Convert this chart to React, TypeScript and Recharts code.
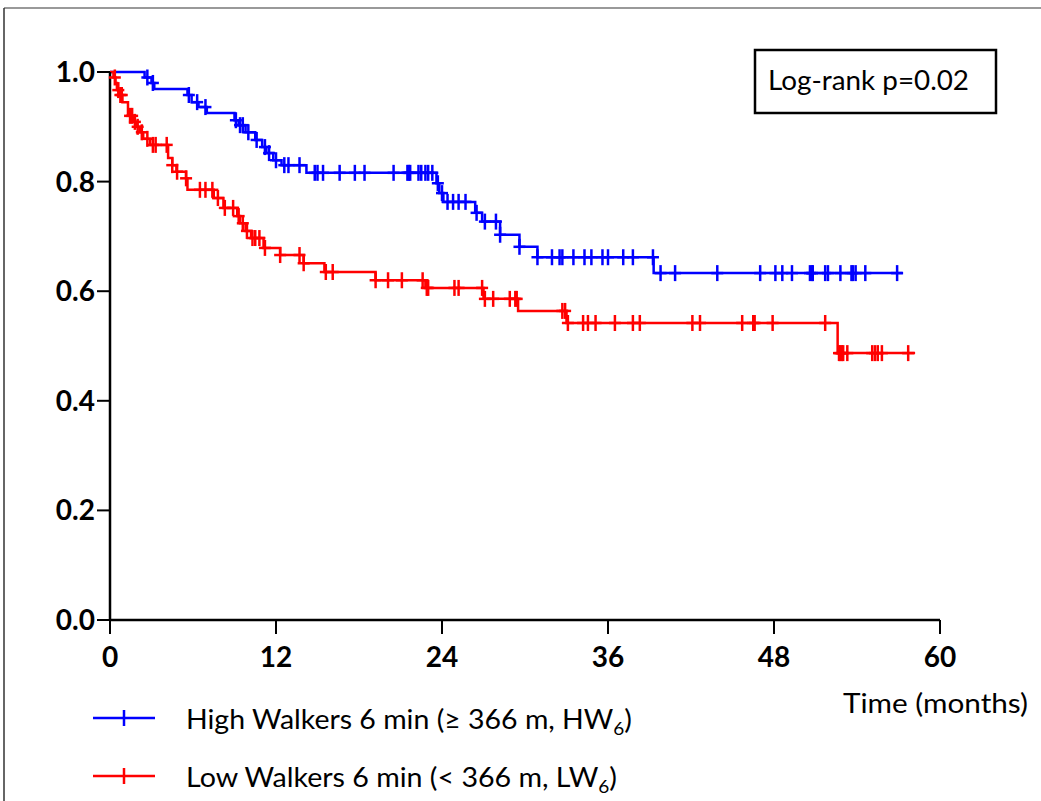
import React from 'react';
import { ComposedChart, Line, Scatter, XAxis, YAxis } from 'recharts';

const xTicks = [0, 12, 24, 36, 48, 60];
const yTicks = [0, 0.2, 0.4, 0.6, 0.8, 1.0];

// High walkers (HW6): step times in months and survival after each step
const hwTimes = [0, 2.5, 3.0, 3.2, 5.6, 5.9, 6.4, 7.0, 9.0, 9.3, 9.8, 10.5, 11.0, 11.3, 11.8, 12.4, 14.2, 23.6, 23.8, 24.1, 26.4, 26.9, 28.2, 29.6, 30.9, 39.3, 57.3];
const hwSurv = [1.0, 0.99, 0.98, 0.969, 0.958, 0.945, 0.936, 0.925, 0.912, 0.903, 0.89, 0.876, 0.863, 0.852, 0.839, 0.83, 0.816, 0.797, 0.779, 0.763, 0.743, 0.727, 0.703, 0.681, 0.662, 0.633, 0.633];
const hwCensored = [2.7, 3.1, 5.7, 6.3, 6.9, 9.1, 9.4, 9.6, 10.0, 10.6, 11.2, 11.5, 12.0, 12.6, 12.9, 13.7, 14.8, 15.0, 15.4, 16.6, 17.7, 18.4, 20.5, 21.5, 21.6, 21.7, 22.3, 22.5, 22.8, 23.0, 23.3, 23.7, 24.0, 24.4, 24.8, 25.2, 25.7, 26.5, 27.1, 27.9, 28.2, 29.6, 30.9, 31.95, 32.5, 32.7, 33.5, 34.3, 34.8, 35.6, 36.0, 37.1, 37.8, 39.25, 39.8, 40.85, 43.9, 47.0, 48.1, 48.6, 49.3, 50.6, 50.75, 50.8, 51.7, 51.9, 52.8, 53.6, 53.7, 53.9, 54.6, 56.9];

// Low walkers (LW6)
const lwTimes = [0, 0.25, 0.4, 0.5, 0.7, 0.9, 1.3, 1.65, 1.95, 2.15, 2.4, 2.9, 4.2, 4.5, 4.8, 5.5, 5.6, 7.5, 8.2, 9.2, 9.4, 9.8, 10.2, 11.1, 12.3, 14.0, 15.5, 19.2, 22.8, 27.0, 29.5, 33.0, 52.6, 58.2];
const lwSurv = [1.0, 0.99, 0.98, 0.967, 0.958, 0.945, 0.92, 0.909, 0.9, 0.89, 0.878, 0.867, 0.843, 0.83, 0.818, 0.806, 0.785, 0.77, 0.752, 0.737, 0.724, 0.71, 0.697, 0.679, 0.666, 0.651, 0.635, 0.62, 0.606, 0.586, 0.564, 0.542, 0.487, 0.487];
const lwCensored = [0.35, 0.6, 0.75, 0.85, 1.45, 1.6, 1.8, 2.0, 2.3, 2.7, 3.1, 3.3, 4.1, 4.5, 4.85, 5.5, 6.5, 6.9, 7.4, 7.8, 8.3, 8.9, 9.3, 9.6, 9.9, 10.3, 10.5, 10.8, 11.2, 12.3, 13.7, 14.0, 15.6, 16.1, 19.2, 20.1, 21.1, 22.6, 22.9, 23.0, 24.9, 25.2, 26.9, 27.1, 27.7, 28.9, 29.3, 29.4, 32.7, 32.9, 33.1, 34.2, 34.55, 35.1, 36.5, 37.8, 38.3, 42.1, 42.65, 45.7, 46.5, 46.6, 47.9, 51.7, 52.7, 52.8, 52.9, 53.0, 53.3, 55.1, 55.3, 55.5, 55.8, 57.7];

const BLUE = '#0000ff';
const RED = '#ff0000';
const FONT = 'Lato, "Liberation Sans", sans-serif';

const steps = (times: number[], surv: number[]) => times.map((t, i) => ({ t, s: surv[i] }));

// survival value of the step curve at time t (for placing censor marks)
const survAt = (times: number[], surv: number[], t: number) => {
  let v = surv[0];
  for (let i = 0; i < times.length; i++) {
    if (times[i] <= t) v = surv[i];
  }
  return v;
};

const censorPoints = (times: number[], surv: number[], cens: number[]) =>
  cens.map((t) => ({ t, s: survAt(times, surv, t) }));

const crossShape = (color: string) => (props: any) => {
  const { cx, cy } = props;
  if (cx == null || cy == null) return <g />;
  return (
    <g stroke={color} strokeWidth={2.5}>
      <line x1={cx - 6} x2={cx + 6} y1={cy} y2={cy} />
      <line x1={cx} x2={cx} y1={cy - 8} y2={cy + 8} />
    </g>
  );
};

export default function App() {
  const hwSteps = steps(hwTimes, hwSurv);
  const lwSteps = steps(lwTimes, lwSurv);
  const hwCens = censorPoints(hwTimes, hwSurv, hwCensored);
  const lwCens = censorPoints(lwTimes, lwSurv, lwCensored);

  return (
    <div style={{ position: 'absolute', left: 0, top: 0, width: 1041, height: 801, background: '#fff' }}>
      <ComposedChart width={1041} height={801} margin={{ top: 72, right: 101, bottom: 151, left: 50 }}>
        <XAxis
          dataKey="t"
          type="number"
          domain={[0, 60]}
          ticks={xTicks}
          height={30}
          axisLine={{ stroke: '#000', strokeWidth: 2.5 }}
          tickLine={{ stroke: '#000', strokeWidth: 2 }}
          tickSize={14}
          tickMargin={13}
          tick={{ fill: '#000', fontSize: 28, fontWeight: 700, fontFamily: FONT }}
        />
        <YAxis
          dataKey="s"
          type="number"
          domain={[0, 1]}
          ticks={yTicks}
          width={60}
          tickFormatter={(v: number) => v.toFixed(1)}
          axisLine={{ stroke: '#000', strokeWidth: 2.5 }}
          tickLine={{ stroke: '#000', strokeWidth: 2 }}
          tickSize={13}
          tickMargin={2}
          tick={{ fill: '#000', fontSize: 28, fontWeight: 700, fontFamily: FONT }}
        />
        <Line data={hwSteps} dataKey="s" type="stepAfter" stroke={BLUE} strokeWidth={2.5} dot={false} isAnimationActive={false} />
        <Line data={lwSteps} dataKey="s" type="stepAfter" stroke={RED} strokeWidth={2.5} dot={false} isAnimationActive={false} />
        <Scatter data={hwCens} dataKey="s" shape={crossShape(BLUE)} isAnimationActive={false} />
        <Scatter data={lwCens} dataKey="s" shape={crossShape(RED)} isAnimationActive={false} />
      </ComposedChart>

      <svg width={1041} height={801} style={{ position: 'absolute', left: 0, top: 0, pointerEvents: 'none' }}>
        <line x1={4} x2={1041} y1={8} y2={8} stroke="#777" strokeWidth={1.5} />
        <line x1={4} x2={4} y1={8} y2={801} stroke="#333" strokeWidth={1.5} />

        <rect x={755} y={50} width={241} height={63} fill="none" stroke="#000" strokeWidth={2.5} />
        <text x={768} y={90} fontSize={27} fontFamily={FONT} fill="#000" textLength={201} lengthAdjust="spacingAndGlyphs">
          Log-rank p=0.02
        </text>

        <text x={843} y={713} fontSize={27} fontFamily={FONT} fill="#000" textLength={185} lengthAdjust="spacingAndGlyphs">
          Time (months)
        </text>

        <line x1={93} x2={155} y1={718} y2={718} stroke={BLUE} strokeWidth={2.5} />
        <line x1={124} x2={124} y1={710} y2={726} stroke={BLUE} strokeWidth={2.5} />
        <text x={186} y={729} fontSize={27} fontFamily={FONT} fill="#000" textLength={446} lengthAdjust="spacingAndGlyphs">
          <tspan>High Walkers 6 min (≥ 366 m, HW</tspan>
          <tspan fontSize={18} dy={6}>6</tspan>
          <tspan dy={-6}>)</tspan>
        </text>

        <line x1={93} x2={155} y1={776} y2={776} stroke={RED} strokeWidth={2.5} />
        <line x1={124} x2={124} y1={768} y2={784} stroke={RED} strokeWidth={2.5} />
        <text x={186} y={787} fontSize={27} fontFamily={FONT} fill="#000" textLength={431} lengthAdjust="spacingAndGlyphs">
          <tspan>Low Walkers 6 min (&lt; 366 m, LW</tspan>
          <tspan fontSize={18} dy={6}>6</tspan>
          <tspan dy={-6}>)</tspan>
        </text>
      </svg>
    </div>
  );
}
